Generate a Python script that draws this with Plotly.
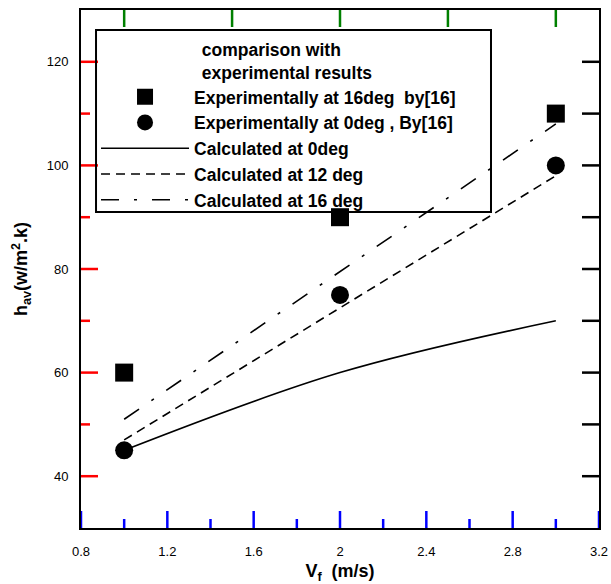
import plotly.graph_objects as go

# ---- data ----
x_exp = [1, 2, 3]
h_exp16 = [60, 90, 110]          # Experimentally at 16deg by[16]
h_exp0 = [45, 75, 100]           # Experimentally at 0deg , By[16]
x_calc = [1, 2, 3]
h_calc0 = [45, 60, 70]           # Calculated at 0deg
h_calc12 = [47, 72.5, 98]        # Calculated at 12 deg
h_calc16 = [51, 79.5, 108]       # Calculated at 16 deg

x_major = [0.8, 1.2, 1.6, 2.0, 2.4, 2.8, 3.2]
x_major_text = ["0.8", "1.2", "1.6", "2", "2.4", "2.8", "3.2"]
x_minor = [1.0, 1.4, 1.8, 2.2, 2.6, 3.0]
x_top = [1.0, 1.5, 2.0, 2.5, 3.0]
y_major = [40, 60, 80, 100, 120]
y_minor = [50, 70, 90, 110]
y_right = [40, 50, 60, 70, 80, 90, 100, 110, 120]
X_RANGE = [0.8, 3.2]
Y_RANGE = [30, 130]

FONT = "Liberation Sans, Arial, sans-serif"
LEG = 17.5
NB = "\u00a0"

fig = go.Figure()
fig.add_trace(go.Scatter(x=x_exp, y=h_exp16, mode="markers",
                         name="Experimentally at 16deg  by[16]",
                         marker=dict(symbol="square", size=18, color="black")))
fig.add_trace(go.Scatter(x=x_exp, y=h_exp0, mode="markers",
                         name="Experimentally at 0deg , By[16]" + NB * 4,
                         marker=dict(symbol="circle", size=18, color="black")))
fig.add_trace(go.Scatter(x=x_calc, y=h_calc0, mode="lines", name="Calculated at 0deg",
                         line=dict(color="black", width=1.6, shape="spline")))
fig.add_trace(go.Scatter(x=x_calc, y=h_calc12, mode="lines", name="Calculated at 12 deg",
                         line=dict(color="black", width=1.6, dash="9px,6px")))
fig.add_trace(go.Scatter(x=x_calc, y=h_calc16, mode="lines", name="Calculated at 16 deg",
                         line=dict(color="black", width=1.6, dash="18px,15px,3px,15px")))

# inward tick marks anchored on the data scales (anchor = axis range ends)
shapes = []
def xtick(v, length, at_top=False, color="black"):
    shapes.append(dict(type="line", xref="x", yref="y", ysizemode="pixel",
                       yanchor=Y_RANGE[1] if at_top else Y_RANGE[0], x0=v, x1=v,
                       y0=0, y1=-length if at_top else length,
                       line=dict(color=color, width=2.5), layer="above"))
def ytick(v, length, at_right=False, color="black"):
    shapes.append(dict(type="line", yref="y", xref="x", xsizemode="pixel",
                       xanchor=X_RANGE[1] if at_right else X_RANGE[0], y0=v, y1=v,
                       x0=0, x1=-length if at_right else length,
                       line=dict(color=color, width=2.5), layer="above"))

for v in x_major:
    xtick(v, 17, color="blue")
for v in x_minor:
    xtick(v, 9, color="blue")
for v in x_top:
    xtick(v, 17, at_top=True, color="green")
for v in y_major:
    ytick(v, 17, color="red")
for v in y_minor:
    ytick(v, 9, color="red")
for v in y_right:
    ytick(v, 17, at_right=True)

shapes.append(dict(type="rect", xref="paper", yref="paper",
                   x0=0.029, x1=0.7915, y0=0.610, y1=0.9614,
                   line=dict(color="black", width=2), fillcolor="rgba(0,0,0,0)",
                   layer="above"))

common = dict(showgrid=False, zeroline=False, automargin=False, showline=True,
              mirror=True, linecolor="black", linewidth=2, ticks="")

fig.update_layout(
    width=611, height=584,
    margin=dict(l=81, r=12, t=10, b=56),
    paper_bgcolor="white", plot_bgcolor="white",
    font=dict(family=FONT, color="black", size=13),
    legend=dict(
        x=0.029, y=0.955, xanchor="left", yanchor="top",
        bgcolor="rgba(0,0,0,0)", borderwidth=0,
        font=dict(family=FONT, size=LEG, weight="bold"),
        title=dict(text="comparison with<br>experimental results", side="top center",
                   font=dict(family=FONT, size=LEG, weight="bold")),
        itemwidth=88, tracegroupgap=0,
    ),
    shapes=shapes,
    xaxis=dict(range=X_RANGE, tickvals=x_major, ticktext=x_major_text,
               ticklabelstandoff=10,
               title=dict(text="V<sub>f</sub>  (m/s)", standoff=14,
                          font=dict(family=FONT, size=18, weight="bold")),
               **common),
    yaxis=dict(range=Y_RANGE, tickvals=y_major, ticklabelstandoff=8,
               title=dict(text="h<sub>av</sub>(w/m<sup>2</sup>.k)", standoff=14,
                          font=dict(family=FONT, size=18, weight="bold")),
               **common),
)

fig.write_html("out.html")
